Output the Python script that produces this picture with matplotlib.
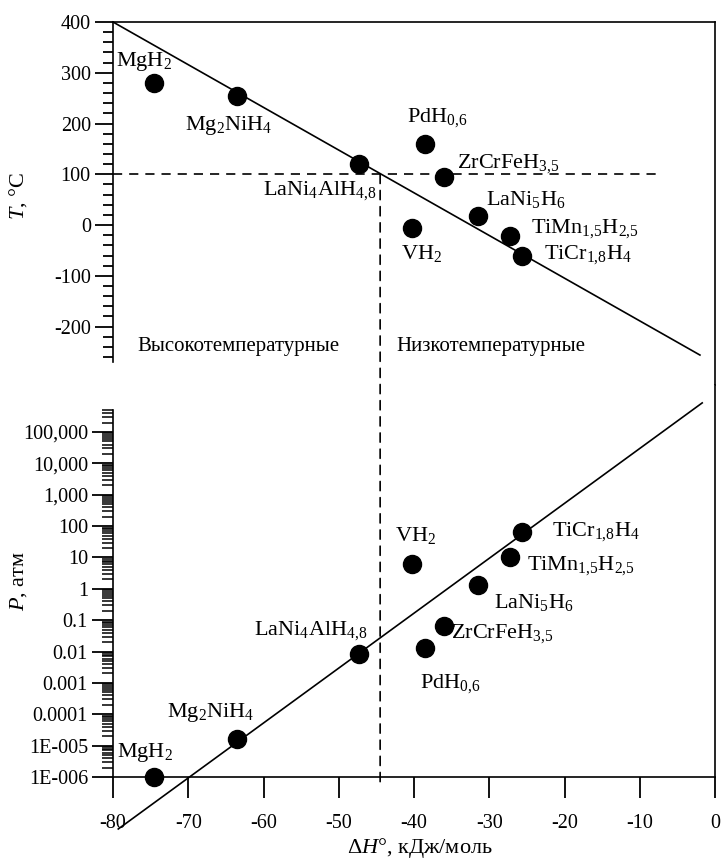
import numpy as np
import matplotlib
matplotlib.use("Agg")
import matplotlib.pyplot as plt
from matplotlib.patches import ConnectionPatch

plt.rcParams['font.family'] = ['Liberation Serif', 'DejaVu Serif']
plt.rcParams['mathtext.fontset'] = 'custom'
plt.rcParams['mathtext.rm'] = 'Liberation Serif'
plt.rcParams['mathtext.it'] = 'Liberation Serif:italic'
plt.rcParams['mathtext.bf'] = 'Liberation Serif:bold'
plt.rcParams['axes.unicode_minus'] = False

# ---------------- data ----------------
names = ['MgH$_2$', 'Mg$_2$NiH$_4$', 'LaNi$_4$AlH$_{4{,}8}$', 'PdH$_{0{,}6}$',
         'ZrCrFeH$_{3{,}5}$', 'VH$_2$', 'LaNi$_5$H$_6$',
         'TiMn$_{1{,}5}$H$_{2{,}5}$', 'TiCr$_{1{,}8}$H$_4$']
dH = [-74.5, -63.5, -47.3, -38.5, -36.0, -40.3, -31.5, -27.3, -25.7]
T_C = [280, 254, 120, 159, 94, -5, 18, -22, -60]
P_atm = [1.0e-6, 1.6e-5, 0.0085, 0.0134, 0.065, 6.0, 1.36, 10.0, 65.0]

T_line_dH = [-80, -2]
T_line_T = [400, -256]
P_line_dH = [-79.3, -1.7]
P_line_P = [2.2e-8, 8.5e5]

T_ref = 100          # horizontal dashed level
dH_split = -44.5     # vertical dashed boundary
hline_dH = [-80, -7]

x_ticks = [-80, -70, -60, -50, -40, -30, -20, -10, 0]
T_ticks = [-200, -100, 0, 100, 200, 300, 400]
P_ticks = [1e-6, 1e-5, 1e-4, 1e-3, 1e-2, 0.1, 1, 10, 100, 1e3, 1e4, 1e5]
P_ticklabels = ['1E-006', '1E-005', '0.0001', '0.001', '0.01', '0.1', '1', '10',
                '100', '1,000', '10,000', '100,000']

label_high = 'Высокотемпературные'
label_low = 'Низкотемпературные'

# label placement (pixels offset from the point, ha)
top_offsets = [(-38, 21, 'left'), (-52, -29, 'left'), (18, -26, 'right'),
               (-18, 27, 'left'), (13, 14, 'left'), (-11, -26, 'left'),
               (8, 16, 'left'), (21, 8, 'left'), (22, 1, 'left')]
bot_offsets = [(-37, 25, 'left'), (-70, 27, 'left'), (9, 23, 'right'),
               (-5, -36, 'left'), (7, -7, 'left'), (-17, 29, 'left'),
               (16, -18, 'left'), (17, -8, 'left'), (30, 0, 'left')]

# ---------------- figure ----------------
W_PX, H_PX = 724, 859
fig = plt.figure(figsize=(W_PX / 100, H_PX / 100), dpi=100)
left = 113 / W_PX
width = 602 / W_PX
ax1 = fig.add_axes([left, 1 - 385 / H_PX, width, (385 - 22) / H_PX])
ax2 = fig.add_axes([left, 1 - 777 / H_PX, width, (777 - 385) / H_PX])

lw_sp = 1.2
tick_fs = 14.5
lab_fs = 16
dash = (0, (5.5, 4.2))

# ---- top panel ----
ax1.set_xlim(-80, 0)
ax1.set_ylim(-315, 400)
ax1.spines['bottom'].set_visible(False)
ax1.spines['left'].set_bounds(-270, 400)
for s in ax1.spines.values():
    s.set_linewidth(lw_sp)
ax1.set_xticks([])
ax1.set_yticks(T_ticks)
ax1.set_yticks(np.arange(-260, 400, 20), minor=True)
ax1.tick_params(axis='y', which='major', direction='out', length=13, width=1.3,
                labelsize=tick_fs, pad=3)
ax1.tick_params(axis='y', which='minor', direction='out', length=7, width=1.3)

ax1.plot(T_line_dH, T_line_T, color='black', lw=1.2, clip_on=False)
ax1.plot(hline_dH, [T_ref, T_ref], color='black', lw=1.2, linestyle=dash)
ax1.plot(dH, T_C, 'o', color='black', markersize=13, zorder=5)
for n, x, y, (dx, dy, ha) in zip(names, dH, T_C, top_offsets):
    ax1.annotate(n, (x, y), xytext=(dx, dy), textcoords='offset pixels',
                 ha=ha, va='center', fontsize=lab_fs)
ax1.text(-76.8, -240, label_high, fontsize=15, ha='left', va='center')
ax1.text(-42.3, -240, label_low, fontsize=15, ha='left', va='center')
ax1.set_ylabel('$T$, °C', fontsize=16)
ax1.yaxis.set_label_coords(-0.14, 0.52)

# ---- bottom panel ----
ax2.set_xlim(-80, 0)
ax2.set_yscale('log')
ax2.set_ylim(1e-6, 10 ** 6.5)
ax2.spines['top'].set_visible(False)
ax2.spines['left'].set_bounds(1e-6, 5.2e5)
for s in ax2.spines.values():
    s.set_linewidth(lw_sp)
ax2.set_yticks(P_ticks)
ax2.set_yticklabels(P_ticklabels)
minor = [m * 10.0 ** e for e in range(-6, 6) for m in range(2, 10) if m * 10.0 ** e <= 5.2e5]
ax2.set_yticks(minor, minor=True)
ax2.yaxis.set_minor_formatter(plt.NullFormatter())
ax2.tick_params(axis='y', which='major', direction='out', length=15, width=1.3,
                labelsize=tick_fs, pad=3)
ax2.tick_params(axis='y', which='minor', direction='out', length=8, width=1.1)
ax2.set_xticks(x_ticks)
ax2.set_xticklabels([str(v) for v in x_ticks])
ax2.tick_params(axis='x', which='major', direction='out', length=15, width=1.3,
                labelsize=tick_fs, pad=12)

ax2.plot(P_line_dH, P_line_P, color='black', lw=1.2, clip_on=False)
ax2.plot(dH, P_atm, 'o', color='black', markersize=13, zorder=5, clip_on=False)
for n, x, y, (dx, dy, ha) in zip(names, dH, P_atm, bot_offsets):
    ax2.annotate(n, (x, y), xytext=(dx, dy), textcoords='offset pixels',
                 ha=ha, va='center', fontsize=lab_fs)
ax2.set_ylabel('$P$, атм', fontsize=16)
ax2.yaxis.set_label_coords(-0.14, 0.5)
ax2.set_xlabel('Δ$H$°, кДж/моль', fontsize=16)
ax2.xaxis.set_label_coords(0.51, -0.15)

con = ConnectionPatch(xyA=(dH_split, T_ref), coordsA=ax1.transData,
                      xyB=(dH_split, 5.5e-7), coordsB=ax2.transData,
                      color='black', lw=1.2, linestyle=dash)
fig.add_artist(con)

fig.savefig('out.png', dpi=100)
